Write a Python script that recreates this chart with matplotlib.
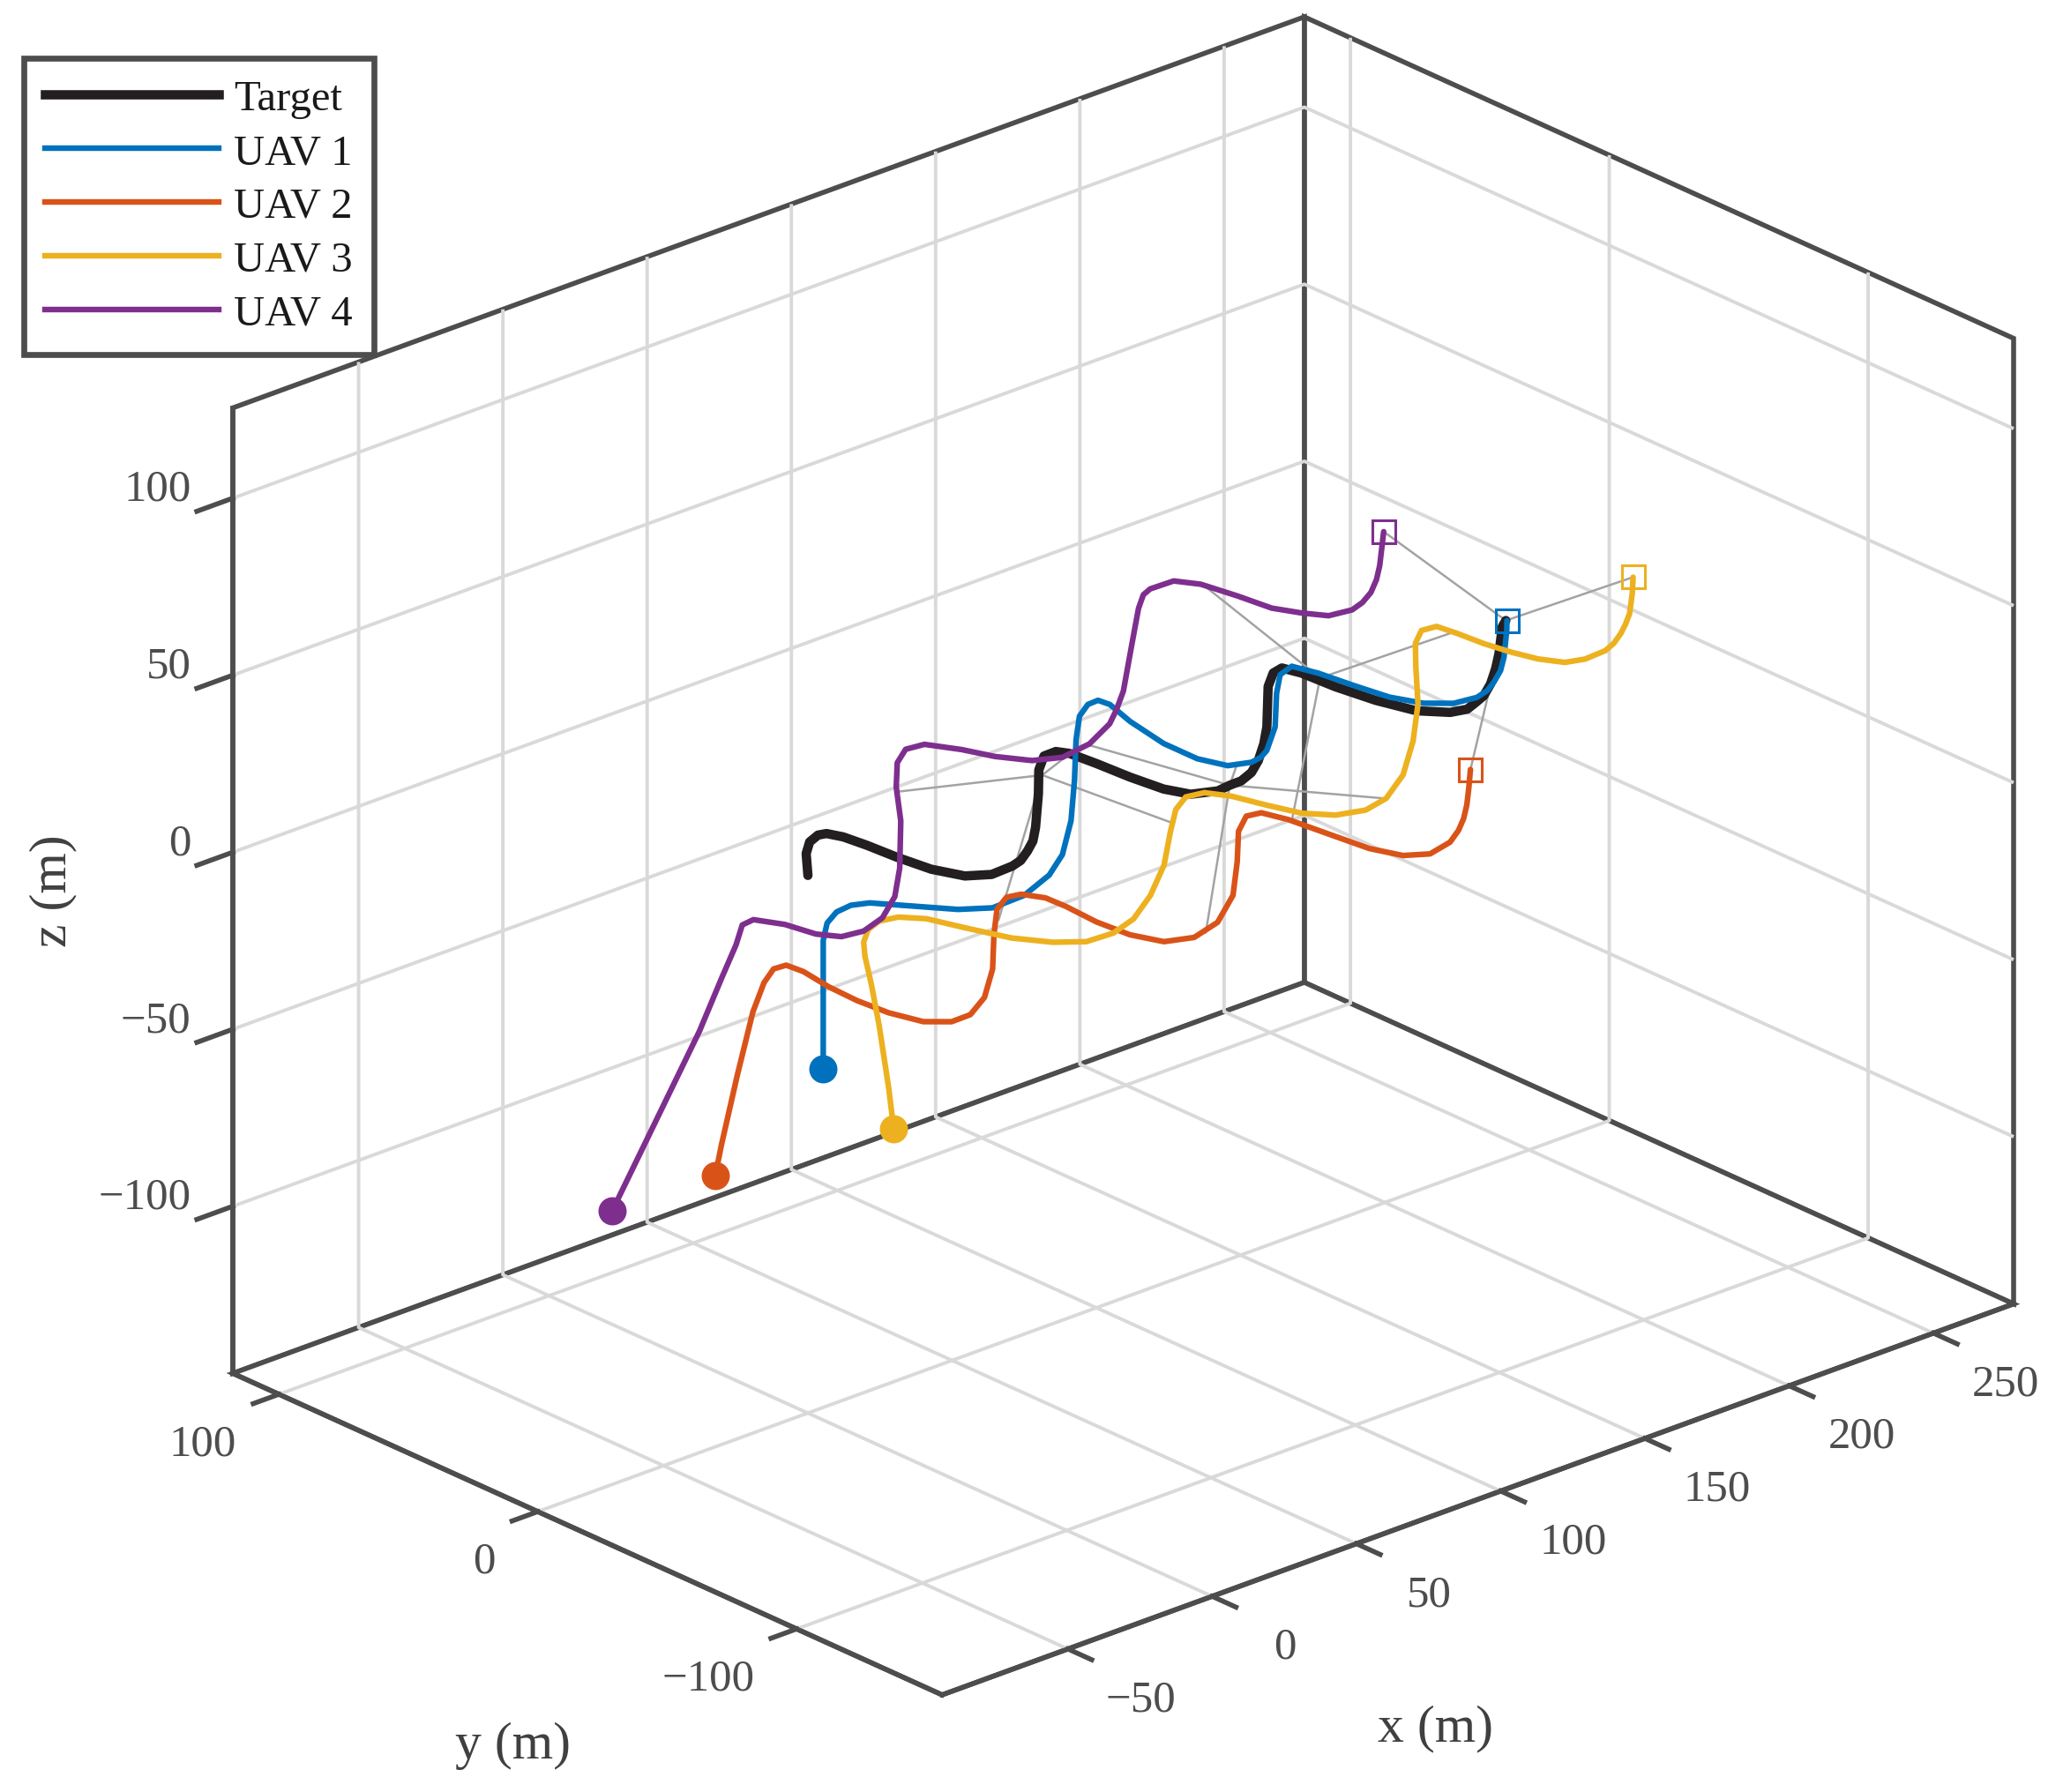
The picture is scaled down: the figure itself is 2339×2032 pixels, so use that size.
import matplotlib
matplotlib.use('Agg')
import matplotlib.pyplot as plt
from matplotlib.lines import Line2D
from mpl_toolkits.mplot3d import proj3d
import numpy as np

AX_COLOR = '#4d4d4d'
TEXT_COLOR = '#404040'

# target trajectory (m), flown at constant altitude
tgt_x = [-0.5, 8.4, 14.0, 18.5, 20.8, 22.6, 23.6, 24.3, 25.8, 29.4, 35.2, 42.7, 46.7, 52.0,
         57.3, 63.6, 78.4, 88.5, 95.4, 99.6, 101.4, 102.3, 103.0, 104.4, 107.4, 114.0, 118.7,
         122.8, 128.3, 134.6, 142.8, 150.5, 167.9, 174.6, 178.4, 180.0, 180.7, 182.7, 186.1,
         191.9, 196.5, 200.0, 205.4, 211.7, 219.1, 226.2, 238.3, 241.5]
tgt_y = [-0.6, 10.0, 14.9, 16.7, 16.0, 11.5, 3.4, -7.4, -18.9, -27.9, -31.8, -31.4, -30.2,
         -26.9, -23.1, -17.1, -1.7, 9.4, 15.1, 15.2, 12.0, 2.5, -9.7, -21.1, -28.2, -31.3,
         -30.7, -30.6, -28.4, -24.0, -17.0, -9.6, 9.3, 14.8, 15.7, 9.9, -2.4, -15.8, -27.7,
         -34.3, -35.7, -34.4, -32.2, -27.8, -21.5, -14.9, -2.7, -0.5]
tgt_alt = 5.0

# UAV 1: climb, then cruise
uav1_x = [-17.0, -17.0, -17.0, -17.0, -17.0, -10.5, -4.9, -0.3, 6.3, 13.9, 21.2, 32.5, 46.0,
          57.2, 73.2, 91.0, 108.5, 119.1, 125.7, 129.4, 129.9, 126.6, 123.7, 123.7, 126.6,
          132.6, 136.4, 140.5, 152.1, 166.7, 175.2, 181.0, 183.2, 184.7, 186.7, 190.6, 196.4,
          203.4, 208.2, 213.0, 219.3, 225.7, 237.7, 241.7]
uav1_y = [-24.9, -24.9, -24.9, -24.9, -26.4, -22.8, -22.1, -24.2, -32.7, -42.5, -47.7,
          -47.3, -42.0, -34.6, -20.1, -1.6, 17.3, 27.8, 31.9, 32.1, 28.1, 16.6, 0.4, -12.6,
          -21.1, -23.6, -22.9, -20.7, -11.0, 4.7, 12.8, 14.8, 6.9, -4.5, -16.6, -25.3,
          -30.6, -31.8, -30.4, -27.6, -23.2, -17.4, -5.1, -0.7]
uav1_climb_z = [-36.6, -24.3, -11.0, -0.4]
uav1_alt = 5.0

# UAV 2
uav2_x = [20.8, 20.8, 20.8, 20.8, 20.8,
          20.8, 24.8, 25.4, 23.8, 23.4, 24.3, 27.2, 32.6, 39.2, 49.2, 62.8, 77.7, 89.0,
          95.9, 100.0, 103.1, 103.4, 102.7, 103.7, 107.3, 114.9, 125.8, 140.2, 155.3,
          168.4, 176.3, 180.6, 182.9, 184.8, 186.2, 189.7, 195.6, 204.4, 211.0, 217.0,
          223.3, 230.9, 239.1]
uav2_y = [58.9, 56.5, 50.4, 44.4, 40.1,
          36.4, 36.0, 30.0, 18.5, 7.0, -4.1, -14.3, -19.2, -19.1, -13.4, -1.4, 14.7, 26.1,
          30.1, 29.0, 23.1, 15.5, 3.0, -8.9, -18.0, -21.2, -18.1, -8.0, 7.2, 21.3, 27.1,
          26.1, 18.2, 2.1, -9.4, -18.5, -22.4, -20.3, -16.2, -11.5, -5.7, 2.0, 10.5]
uav2_climb_z = [-105.7, -96.2, -74.6, -54.8, -45.1]
uav2_alt = -40.0

# UAV 3
uav3_x = [-63.1, -63.1, -63.1, -63.1, -63.1,
          -63.1, -56.9, -51.2, -45.8, -41.1, -37.3, -32.9, -26.8, -20.1, -11.3, -1.4, 11.8,
          27.3, 42.8, 53.1, 60.3, 65.7, 69.4, 72.2, 75.7, 81.4, 89.3, 98.2, 111.4, 127.6,
          144.3, 159.6, 169.5, 176.1, 180.7, 181.7, 182.5, 184.1, 186.4, 190.1, 195.4,
          202.9, 207.6, 212.9, 217.8, 223.2, 232.3, 239.3]
uav3_y = [-103.5, -101.6, -97.9, -94.9, -92.4,
          -91.9, -86.7, -84.6, -86.0, -91.6, -103.2, -115.4, -124.5, -130.0, -130.6, -127.4,
          -119.2, -107.2, -92.4, -83.0, -78.8, -80.0, -86.3, -96.1, -106.5, -113.2, -116.0,
          -114.0, -105.8, -91.6, -74.9, -57.0, -45.8, -40.8, -41.5, -48.3, -57.7, -66.4,
          -74.3, -80.6, -82.5, -82.0, -80.0, -76.7, -73.1, -68.7, -59.6, -52.1]
uav3_climb_z = [-13.8, -3.1, 13.4, 24.0, 31.2]
uav3_alt = 35.0

# UAV 4
uav4_x = [-49.1, -49.1, -49.1, -49.1, -49.1,
          -49.1, -44.7, -40.7, -38.8, -35.0, -28.4, -19.2, -7.8, 5.2, 25.4, 38.9, 49.4,
          56.7, 62.4, 67.3, 70.8, 76.2, 83.4, 94.3, 106.7, 114.0, 123.2, 144.1, 161.1,
          167.8, 171.6, 179.5, 183.3, 185.4, 186.8, 190.5, 194.5, 201.5, 206.6, 212.5,
          219.0, 225.6, 240.7]
uav4_y = [20.9, 0.7, -12.9, -21.5, -27.0,
          -29.4, -28.8, -36.5, -46.4, -52.0, -53.2, -50.2, -42.3, -29.7, -7.6, 9.2, 20.5,
          25.4, 24.5, 15.7, 6.6, -1.7, -5.4, -3.7, 2.3, 7.8, 15.4, 35.5, 51.8, 57.4, 59.0,
          58.7, 52.5, 40.5, 29.0, 21.5, 15.6, 14.3, 16.0, 19.3, 24.4, 30.5, 45.8]
uav4_climb_z = [-82.5, -45.4, -20.4, -2.5, 8.6]
uav4_alt = 15.0

# formation links at four instants (target -> each UAV)
snap_tgt = [(87.0, 6.4, 5.0), (118.7, -30.7, 5.0), (181.5, 4.4, 5.0), (241.5, -0.5, 5.0)]
snap_uav1 = [(102.8, 12.3, 5.0), (128.2, -22.7, 5.0), (183.2, 6.9, 5.0), (241.7, -0.7, 5.0)]
snap_uav2 = [(84.8, 20.8, -40.0), (119.3, -20.8, -40.0), (182.8, 16.8, -40.0), (239.1, 10.5, -40.0)]
snap_uav3 = [(46.7, -88.8, 35.0), (97.6, -113.4, 35.0), (180.4, -47.1, 35.0), (239.3, -52.1, 35.0)]
snap_uav4 = [(37.5, 6.6, 15.0), (93.6, -3.9, 15.0), (182.9, 49.5, 15.0), (240.7, 45.8, 15.0)]

labels = ['Target', 'UAV 1', 'UAV 2', 'UAV 3', 'UAV 4']
colors = ['#231f20', '#0072bd', '#d95319', '#edb120', '#7e2f8e']

x_ticks = [-50, 0, 50, 100, 150, 200, 250]
y_ticks = [-100, 0, 100]
z_ticks = [-100, -50, 0, 50, 100]


def with_alt(climb, alt, xs):
    return climb + [alt] * (len(xs) - len(climb))


def tick_text(v):
    return f'{v:g}'.replace('-', '\u2212')


def setup_style():
    plt.rcParams['font.family'] = ['Liberation Serif', 'DejaVu Serif']
    plt.rcParams['axes.edgecolor'] = AX_COLOR
    plt.rcParams['axes.linewidth'] = 2.0
    plt.rcParams['grid.color'] = '#d9d9d9'
    plt.rcParams['grid.linewidth'] = 1.4
    plt.rcParams['xtick.major.width'] = 2.0
    plt.rcParams['ytick.major.width'] = 2.0
    plt.rcParams['xtick.color'] = AX_COLOR
    plt.rcParams['ytick.color'] = AX_COLOR


def fit_box(fig, ax, left, right, top, bottom):
    # place the projected box at the wanted pixel extent (image coords, y down)
    fig.canvas.draw()
    cx, cy, cz = np.meshgrid(ax.get_xlim(), ax.get_ylim(), ax.get_zlim())
    px, py, _ = proj3d.proj_transform(cx.ravel(), cy.ravel(), cz.ravel(), ax.get_proj())
    pts = ax.transData.transform(np.column_stack([px, py]))
    W, H = fig.bbox.width, fig.bbox.height
    bb = ax.get_position()
    x0, y0 = bb.x0 * W, bb.y0 * H
    s = (right - left) / (pts[:, 0].max() - pts[:, 0].min())
    mid_now = 0.5 * (pts[:, 1].max() + pts[:, 1].min())
    mid_want = H - 0.5 * (top + bottom)
    nx0 = left - (pts[:, 0].min() - x0) * s
    ny0 = mid_want - (mid_now - y0) * s
    ax.set_position([nx0 / W, ny0 / H, bb.width * s, bb.height * s])
    fig.canvas.draw()


def place_text(fig, ax, x, y, z, s, **kw):
    # project a 3D anchor and put a plain figure text there
    px, py, _ = proj3d.proj_transform(np.array([x]), np.array([y]), np.array([z]),
                                      ax.get_proj())
    X, Y = ax.transData.transform((px[0], py[0]))
    fig.text(X / fig.bbox.width, Y / fig.bbox.height, s, **kw)


def render():
    setup_style()
    fig = plt.figure(figsize=(2339 / 200, 2033 / 200), dpi=200)
    ax = fig.add_axes([0, 0, 1, 1], projection='3d')
    ax.set_proj_type('ortho')
    ax.computed_zorder = False
    ax.view_init(elev=24, azim=-131.9)
    xlo, xhi = -93.6, 277.8
    ylo, yhi = -156.2, 117.8
    zlo, zhi = -147.2, 125.5
    ax.set_xlim(xlo, xhi)
    ax.set_ylim(ylo, yhi)
    ax.set_zlim(zlo, zhi)
    ax.set_box_aspect((xhi - xlo, yhi - ylo, zhi - zlo))
    ax.set_xticks(x_ticks)
    ax.set_yticks(y_ticks)
    ax.set_zticks(z_ticks)

    for axis, f in ((ax.xaxis, 0.42), (ax.yaxis, 0.3), (ax.zaxis, 0.42)):
        axis.set_tick_params(label1On=False, label2On=False)
        axis.label.set_visible(False)
        axis.offsetText.set_visible(False)
        axis.set_pane_color((1, 1, 1, 1))
        axis.pane.set_closed(True)
        axis.pane.set_edgecolor(AX_COLOR)
        axis.pane.set_linewidth(2.0)
        axis._axinfo['tick']['inward_factor'] = f
        axis._axinfo['tick']['outward_factor'] = 0.0

    # formation links
    for pairs in (snap_uav1, snap_uav2, snap_uav3, snap_uav4):
        for t, u in zip(snap_tgt, pairs):
            ax.plot([t[0], u[0]], [t[1], u[1]], [t[2], u[2]], color='#a3a3a3', lw=0.9, zorder=2)

    ax.plot(tgt_x, tgt_y, [tgt_alt] * len(tgt_x), color=colors[0], lw=3.8, zorder=3,
            solid_capstyle='round', solid_joinstyle='round')
    uavs = [(uav1_x, uav1_y, with_alt(uav1_climb_z, uav1_alt, uav1_x)),
            (uav2_x, uav2_y, with_alt(uav2_climb_z, uav2_alt, uav2_x)),
            (uav3_x, uav3_y, with_alt(uav3_climb_z, uav3_alt, uav3_x)),
            (uav4_x, uav4_y, with_alt(uav4_climb_z, uav4_alt, uav4_x))]
    for i, (xs, ys, zs) in enumerate(uavs):
        c = colors[i + 1]
        ax.plot(xs, ys, zs, color=c, lw=2.3, zorder=4 + i,
                solid_capstyle='round', solid_joinstyle='round')
        ax.plot([xs[0]], [ys[0]], [zs[0]], 'o', color=c, ms=10.5, zorder=10)
        ax.plot([xs[-1]], [ys[-1]], [zs[-1]], 's', color=c, mfc='none', mew=1.1,
                ms=9.5, zorder=10)

    handles = [Line2D([], [], color=colors[0], lw=3.8)] + \
              [Line2D([], [], color=c, lw=2.3) for c in colors[1:]]
    leg = fig.legend(handles, labels, loc='upper left',
                     bbox_to_anchor=(27 / 2339, 1 - 67 / 2033), borderaxespad=0,
                     fontsize=17.5, fancybox=False, framealpha=1, edgecolor=AX_COLOR,
                     handlelength=4.05, handletextpad=0.35, labelspacing=0.345,
                     borderpad=0.5)
    leg.get_frame().set_linewidth(2.4)
    for txt in leg.get_texts():
        txt.set_color('#1a1a1a')

    fit_box(fig, ax, 264, 2283, 18, 1925)

    # tick and axis labels, anchored like the MATLAB original
    tk = dict(fontsize=18.3, color=AX_COLOR, va='center')
    for t in x_ticks:
        place_text(fig, ax, t, ylo - 28, zlo - 5.0, tick_text(t), ha='center', **tk)
    for t in y_ticks:
        place_text(fig, ax, xlo - 14.7, t, zlo - 9.7, tick_text(t), ha='right', **tk)
    for t in z_ticks:
        place_text(fig, ax, xlo, yhi + 16.2, t - 2.8, tick_text(t), ha='right', **tk)

    lb = dict(fontsize=21.5, color=TEXT_COLOR, ha='center', va='center')
    place_text(fig, ax, -11.1, ylo - 98.6, zlo - 1.1, 'x (m)', **lb)
    place_text(fig, ax, xlo - 100.9, -102.9, zlo - 1.9, 'y (m)', **lb)
    place_text(fig, ax, xlo, yhi + 69.4, -33.6, 'z (m)', rotation=90, **lb)

    fig.savefig('out.png', dpi=200, facecolor='white')


def main():
    render()


if __name__ == '__main__':
    main()
